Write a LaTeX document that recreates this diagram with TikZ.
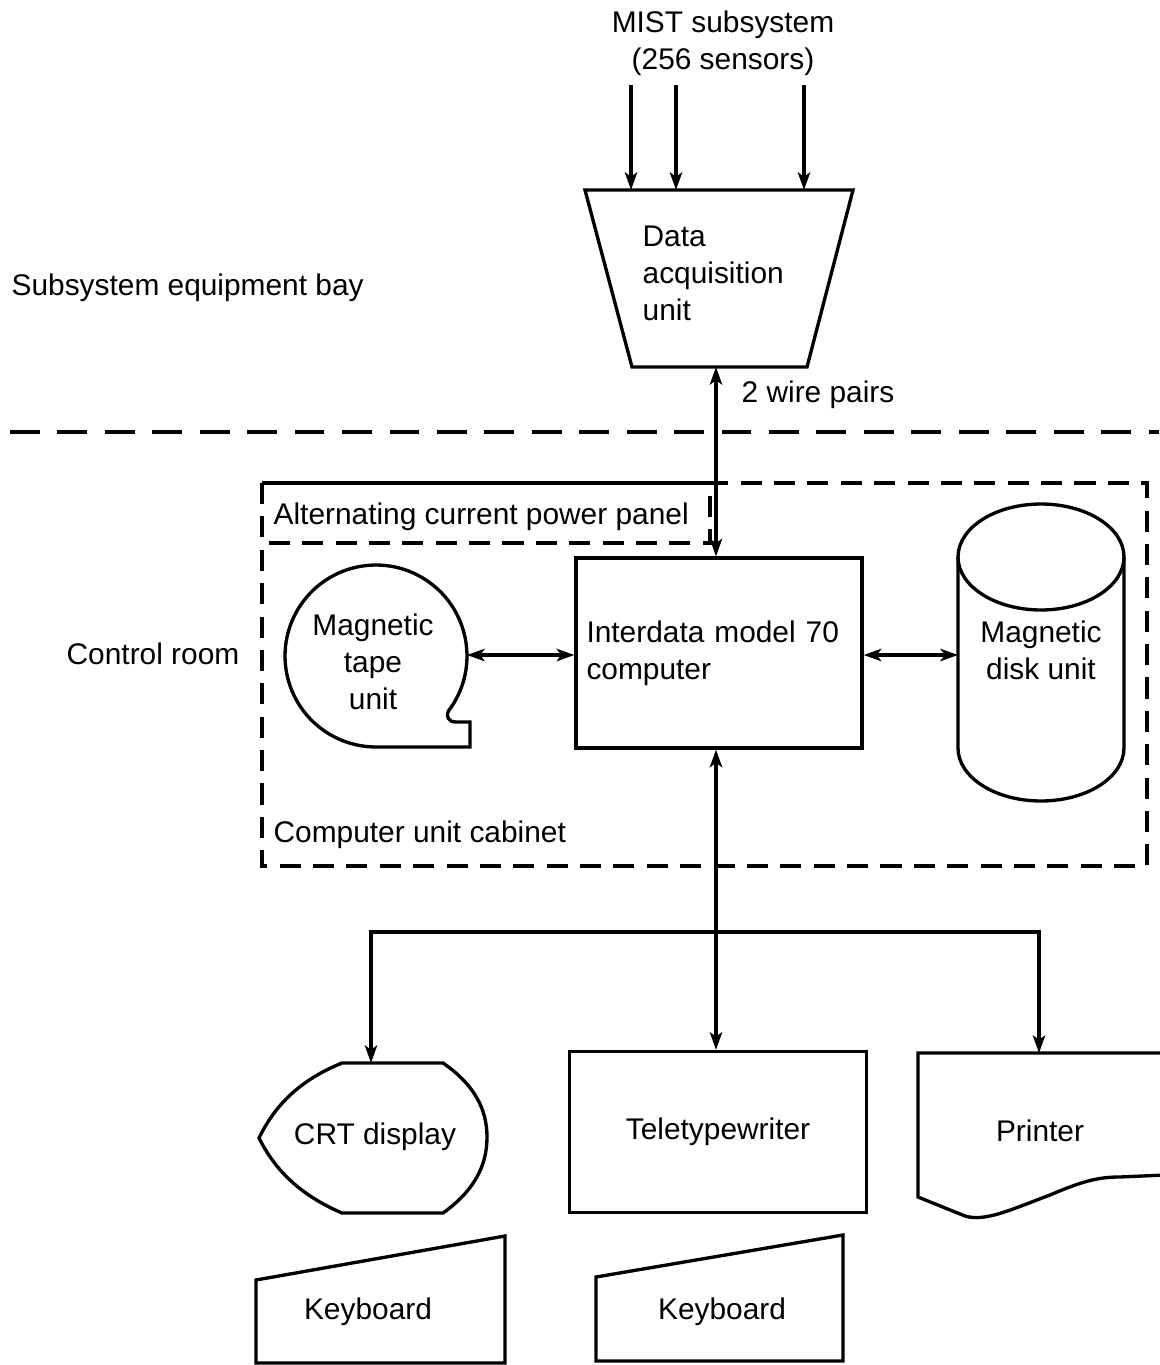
\documentclass[tikz,border=0pt]{standalone}
\usepackage{fontspec}
\setmainfont{Liberation Sans}
\usepackage{tikz}
\usetikzlibrary{positioning,calc,arrows.meta}

\tikzset{
    bayline/.style={dash pattern=on 17pt off 10pt, line width=2.2pt},
    cabline/.style={dash pattern=on 12pt off 7pt},
    unitbox/.style={draw, align=center}
}

\begin{document}
\begin{tikzpicture}[x=0.02cm, y=-0.02cm, line width=1.9pt, inner sep=0pt,
    font=\fontsize{17}{21}\selectfont, >={Stealth[length=10pt,width=7pt,inset=2.5pt]}]
    \useasboundingbox (0,0) rectangle (1159,1365);

    \node[align=center] (mist) at (723,43) {MIST subsystem\\(256 sensors)};
    \node[anchor=west] (bay) at (10,288) {Subsystem equipment bay};
    \node[anchor=west] (room) at (65,654) {Control room};

    \draw (585,190) -- (853,190) -- (807,367) -- (632,367) -- cycle;
    \node[anchor=west, align=left] (daq) at (641,273) {Data\\acquisition\\unit};
    \foreach \x [count=\i] in {631,676,804} {
        \coordinate (s\i) at (\x,85);
        \coordinate (d\i) at (\x,190);
        \draw[->] (s\i) -- (d\i);
    }

    \draw[bayline] (10,432) -- (1159,432);
    \draw[cabline] (262,483) rectangle (1147,866);
    \draw[cabline] (262,483) rectangle (710,543);
    \node[anchor=west] (panel) at (272,517) {Alternating current power panel};
    \node[anchor=west] (cabinet) at (272,835) {Computer unit cabinet};

    \node[draw, minimum width=5.72cm, minimum height=3.8cm, text width=5.3cm, align=left] (comp) at (719,653) {Interdata model 70\\computer};
    \coordinate (daq-s) at (716,367);
    \draw[<->] (daq-s) -- (daq-s |- comp.north);
    \node[anchor=west] (wires) at (740,395) {2 wire pairs};

    % tape unit
    \draw (470,722) -- (456,722) .. controls (448,722) and (446,716) .. ($(376,656)+(-37.5:1.82cm)$)
        arc[start angle=-37.5, end angle=270, radius=1.82cm] -- (470,747) -- cycle;
    \node[align=center] (tape) at (373,662) {Magnetic\\tape\\unit};
    \coordinate (tape-e) at (467,655);
    \draw[<->] (tape-e) -- (tape-e -| comp.west);

    % disk unit
    \draw (1041,557) ellipse[x radius=1.66cm, y radius=1.06cm];
    \draw (958,557) -- (958,748) arc[start angle=180, end angle=360, x radius=1.66cm, y radius=1.06cm] -- (1124,557);
    \node[align=center] (disk) at (1041,650) {Magnetic\\disk unit};
    \coordinate (disk-w) at (958,655);
    \draw[<->] (comp.east |- disk-w) -- (disk-w);

    \node[unitbox, minimum width=5.94cm, minimum height=3.22cm] (tty) at (718,1132) {Teletypewriter};
    \coordinate (bus) at (716,932);
    \coordinate (crt-n) at (371,1063);
    \coordinate (prn-n) at (1039,1053);
    \draw[<->] (comp.south -| bus) -- (tty.north -| bus);
    \draw[->] (bus) -| (crt-n);
    \draw[->] (bus) -| (prn-n);

    \draw (342,1063) -- (443,1063) .. controls (475,1085) and (487,1110) .. (487,1137)
        .. controls (487,1165) and (475,1190) .. (443,1213) -- (342,1213)
        .. controls (300,1195) and (275,1170) .. (259,1138)
        .. controls (275,1105) and (300,1080) .. (342,1063) -- cycle;
    \node (crt) at (375,1137) {CRT display};

    \draw (256,1363) -- (256,1280) -- (505,1236) -- (505,1363) -- cycle;
    \node (kb1) at (368,1312) {Keyboard};
    \draw (596,1361) -- (596,1277) -- (843,1235) -- (843,1361) -- cycle;
    \node (kb2) at (722,1312) {Keyboard};

    \draw (1165,1053) -- (918,1053) -- (918,1197) -- (965,1216)
        .. controls (985,1222) and (1010,1210) .. (1050,1195)
        .. controls (1085,1180) and (1100,1177) .. (1120,1177) -- (1165,1175);
    \node (prn) at (1040,1131) {Printer};
\end{tikzpicture}
\end{document}
